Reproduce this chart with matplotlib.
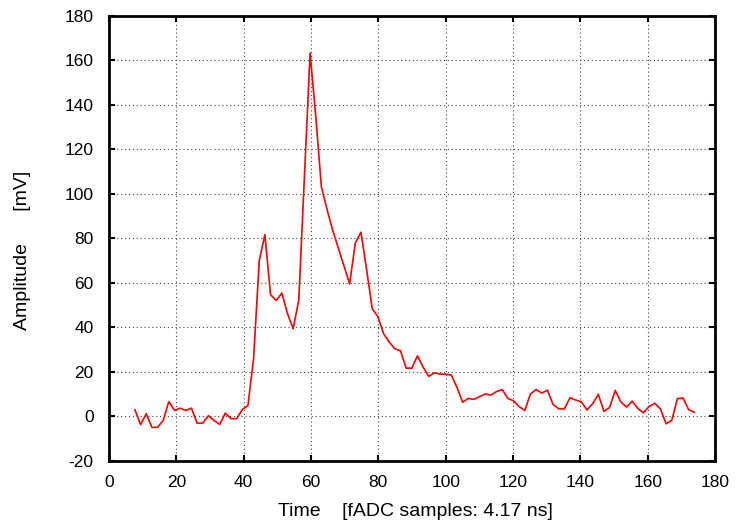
import numpy as np
import matplotlib
matplotlib.use("Agg")
import matplotlib.pyplot as plt

# fADC trace, 100 samples
t_first = 7.72
t_step = 1.678
amplitude = [
    3.0, -3.7, 1.2, -4.9, -4.9, -1.8, 6.7, 2.7, 3.7, 2.7,
    3.7, -3.0, -3.0, 0.3, -1.8, -3.6, 1.5, -1.0, -1.0, 3.1,
    4.9, 26.0, 70.0, 81.7, 54.7, 52.1, 55.4, 46.2, 39.4, 52.4,
    108.0, 163.3, 135.0, 103.1, 93.0, 83.6, 75.6, 67.6, 59.6, 77.9,
    82.8, 66.0, 48.4, 44.8, 37.2, 33.4, 30.4, 29.5, 21.7, 21.7,
    27.2, 22.2, 18.0, 19.6, 19.0, 19.0, 18.6, 13.0, 6.4, 8.1,
    7.7, 8.9, 10.1, 9.6, 11.2, 12.1, 8.1, 7.0, 4.4, 2.7,
    10.1, 12.1, 10.5, 11.8, 5.4, 3.4, 3.4, 8.4, 7.4, 6.6,
    2.9, 5.7, 9.9, 2.3, 4.0, 11.7, 6.5, 4.2, 6.9, 3.6,
    1.6, 4.5, 5.9, 3.4, -3.3, -1.8, 8.0, 8.3, 3.0, 1.9,
]
time = t_first + t_step * np.arange(len(amplitude))

x_ticks = [0, 20, 40, 60, 80, 100, 120, 140, 160, 180]
y_ticks = [-20, 0, 20, 40, 60, 80, 100, 120, 140, 160, 180]

plt.rcParams['font.family'] = ['Liberation Sans', 'DejaVu Sans']
plt.rcParams['axes.unicode_minus'] = False

fig = plt.figure(figsize=(7.41, 5.28), dpi=100)
ax = fig.add_axes([0.147, 0.127, 0.818, 0.843])

ax.plot(time, amplitude, color='#ff0000', lw=1.2, zorder=3)

ax.set_xlim(0, 180)
ax.set_ylim(-20, 180)
ax.set_xticks(x_ticks)
ax.set_yticks(y_ticks)
ax.grid(True, color='#444444', linestyle=(0, (1, 2.5)), lw=0.8)

for s in ax.spines.values():
    s.set_linewidth(2.0)
ax.tick_params(direction='in', length=4, width=1.5, top=True, right=True,
               labelsize=12.5)
ax.tick_params(axis='y', pad=11)
ax.tick_params(axis='x', pad=10)

ax.set_xlabel('Time    [fADC samples: 4.17 ns]', fontsize=14)
ax.set_ylabel('Amplitude      [mV]', fontsize=14)
ax.xaxis.set_label_coords(0.505, -0.094)
ax.yaxis.set_label_coords(-0.128, 0.474)

fig.savefig('out.png', dpi=100)
